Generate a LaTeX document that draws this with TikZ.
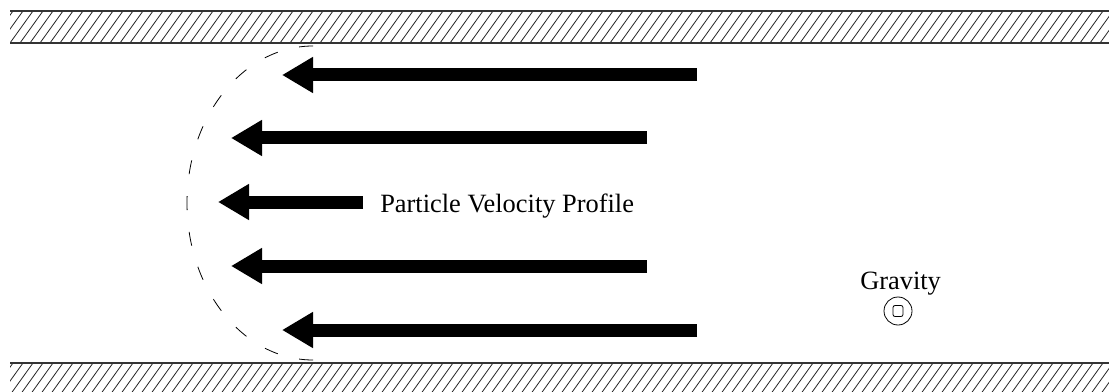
\documentclass[tikz,border=0pt]{standalone}
\usepackage{fontspec}
\setmainfont{Liberation Serif}
\usetikzlibrary{arrows.meta}
\begin{document}
\begin{tikzpicture}[x=0.75pt,y=-0.75pt,
  fatarrow/.style={line width=9.75pt, -{Triangle[length=23.25pt,width=25.5pt]}},
  hatch/.style={line width=0.6pt, black!85},
  wall/.style={line width=1pt, black!80},
  profile/.style={line width=0.6pt, dash pattern=on 10.5pt off 16.5pt},
  lbl/.style={font=\fontsize{19.8pt}{24pt}\selectfont, inner sep=0pt, anchor=base west}]
\useasboundingbox (0,0) rectangle (1109,392);
% top wall
\begin{scope}
\clip (10,11) rectangle (1109,43);
\foreach \i in {0,...,115} { \draw[hatch] (\i*10-10,43) -- ++(23,-32); }
\end{scope}
\coordinate (tw1) at (10,11); \coordinate (tw2) at (1109,11);
\coordinate (tw3) at (10,43); \coordinate (tw4) at (1109,43);
\draw[wall] (tw1) -- (tw2);
\draw[wall] (tw3) -- (tw4);
% bottom wall
\begin{scope}
\clip (10,363) rectangle (1109,392);
\foreach \i in {0,...,115} { \draw[hatch] (\i*10-10,395) -- ++(23,-32); }
\end{scope}
\coordinate (bw1) at (10,363); \coordinate (bw2) at (1109,363);
\draw[wall] (bw1) -- (bw2);
% velocity arrows
\coordinate (s1) at (697,75);  \coordinate (t1) at (282,75);
\coordinate (s2) at (647,138); \coordinate (t2) at (231,138);
\coordinate (s3) at (363,202); \coordinate (t3) at (218,202);
\coordinate (s4) at (647,266); \coordinate (t4) at (231,266);
\coordinate (s5) at (697,330); \coordinate (t5) at (282,330);
\foreach \k in {1,...,5} { \draw[fatarrow] (s\k) -- (t\k); }
% profile
\coordinate (ptop) at (313,46);
\draw[profile] (ptop) arc[start angle=270, end angle=90, x radius=126, y radius=157];
% labels
\node[lbl] (prof) at (380,212) {Particle Velocity Profile};
\node[lbl] (grav) at (860,289) {Gravity};
% gravity symbol
\node[draw, circle, line width=0.6pt, minimum size=21pt, inner sep=0pt] (gsym) at (898,311) {};
\node[draw, rounded corners=1.5pt, minimum width=7.5pt, minimum height=8.25pt, inner sep=0pt, line width=0.6pt] (gin) at (gsym) {};
\end{tikzpicture}
\end{document}
